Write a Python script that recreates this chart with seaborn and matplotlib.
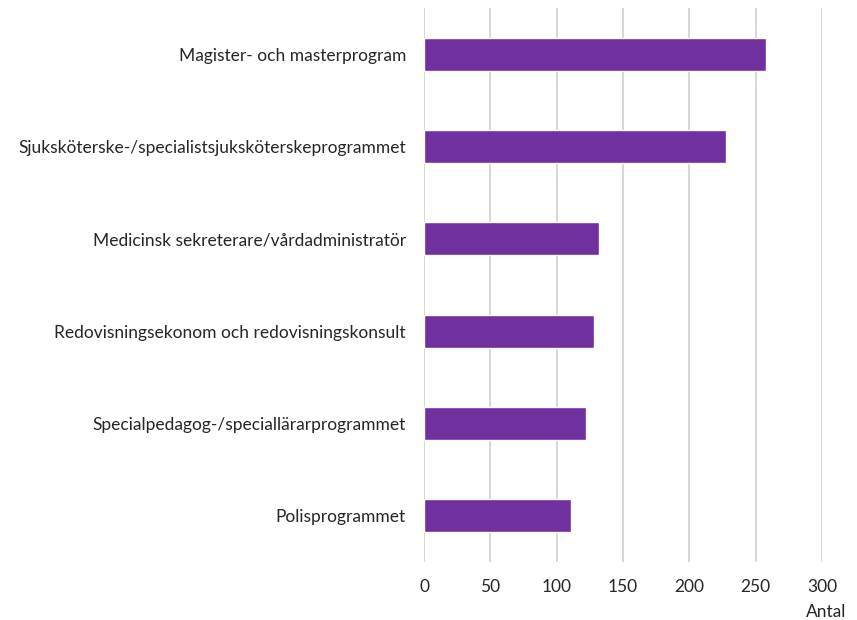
import matplotlib
matplotlib.use("Agg")
import matplotlib.pyplot as plt
import seaborn as sns
import pandas as pd

categories = [
    "Magister- och masterprogram",
    "Sjuksköterske-/specialistsjuksköterskeprogrammet",
    "Medicinsk sekreterare/vårdadministratör",
    "Redovisningsekonom och redovisningskonsult",
    "Specialpedagog-/speciallärarprogrammet",
    "Polisprogrammet",
]
values = [258, 228, 132, 128, 122, 111]
xticks = [0, 50, 100, 150, 200, 250, 300]
xlabel = "Antal"

df = pd.DataFrame({"program": categories, "antal": values})

sns.set_theme(style="white")
plt.rcParams["font.family"] = ["Lato", "DejaVu Sans"]

fig = plt.figure(figsize=(8.57, 6.2), dpi=100)
ax = fig.add_axes([424 / 857, 1 - 562 / 620, 398 / 857, 554 / 620])

sns.barplot(data=df, x="antal", y="program", color="#7030A0", width=0.36,
            saturation=1, ax=ax, zorder=3)

ax.set_xlim(0, 300)
ax.set_xticks(xticks)
ax.set_xticklabels([str(t) for t in xticks], fontsize=12.5, color="#262626")
ax.tick_params(axis="x", length=0, pad=12)
ax.tick_params(axis="y", length=0, pad=13)
for lbl in ax.get_yticklabels():
    lbl.set_fontsize(12.5)
    lbl.set_color("#262626")
ax.set_ylabel("")
ax.set_xlabel("")
for s in ax.spines.values():
    s.set_visible(False)
ax.grid(axis="x", color="#d6d6d6", linestyle="-", linewidth=1.4, zorder=0)
ax.grid(axis="y", visible=False)

fig.text(826 / 857, 1 - 612 / 620, xlabel, ha="center", va="center",
         fontsize=12.5, color="#262626")

fig.savefig("out.png", dpi=100)
